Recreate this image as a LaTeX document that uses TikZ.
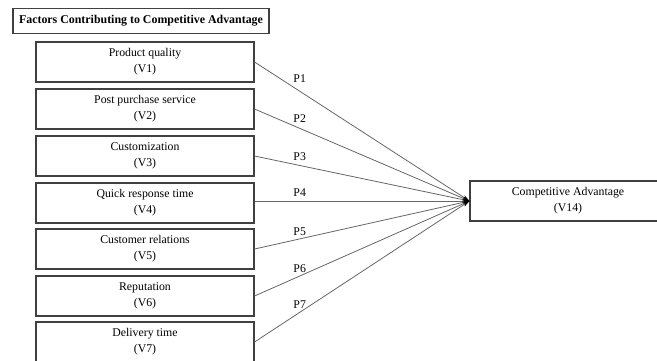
\documentclass[tikz,border=0pt]{standalone}
\usepackage{fontspec}
\setmainfont{Liberation Serif}
\usetikzlibrary{arrows.meta}

\begin{document}
\begin{tikzpicture}[x=1pt,y=-1pt]
		\useasboundingbox (0,0) rectangle (657,360);
		\begin{scope}
            [
                every node/.style={draw=black!75, line width=1.1pt, align=center, inner sep=0pt,
                    font=\fontsize{11.8}{16}\selectfont},
				factor/.style = {minimum width=218pt, minimum height=40pt},
				heading/.style = {minimum width=256pt, minimum height=25pt, font=\fontsize{11.9}{14}\selectfont\bfseries},
				outcome/.style = {minimum width=196pt, minimum height=40pt}
            ]
            
			\node(t)[heading] at (141,20.7) {Factors Contributing to Competitive Advantage};
			
			\node(v1)[factor] at (145,62) {Product quality\\(V1)};
			\node(v2)[factor] at (145,109) {Post purchase service\\(V2)};
			\node(v3)[factor] at (145,156) {Customization\\(V3)};
			\node(v4)[factor] at (145,203) {Quick response time\\(V4)};
			\node(v5)[factor] at (145,249) {Customer relations\\(V5)};
			\node(v6)[factor] at (145,296) {Reputation\\(V6)};
			\node(v7)[factor] at (145,342) {Delivery time\\(V7)};

			\node(ca)[outcome] at (568,201) {Competitive Advantage\\(V14)};

		\end{scope}
		\begin{scope}
            [>={Stealth[black,length=7pt,width=4pt]},
                every node/.style={font=\fontsize{11.8}{14}\selectfont, inner sep=1pt, pos=.21},
                every edge/.style={draw=black!60, line width=0.8pt, ->},
            ]
            \path 
            (v1.east) edge         node[above=7pt]{P1}(ca.west)
			(v2.east) edge         node[above=4pt]{P2}(ca.west)
			(v3.east) edge         node[above=3pt]{P3}(ca.west)
			(v4.east |- ca.west) edge         node[above=3pt]{P4}(ca.west)
			(v5.east) edge         node[above=2pt]{P5}(ca.west)
			(v6.east) edge         node[above=2pt]{P6}(ca.west)
			(v7.east) edge         node[above=2pt]{P7}(ca.west);
		\end{scope}
    \end{tikzpicture}
\end{document}
